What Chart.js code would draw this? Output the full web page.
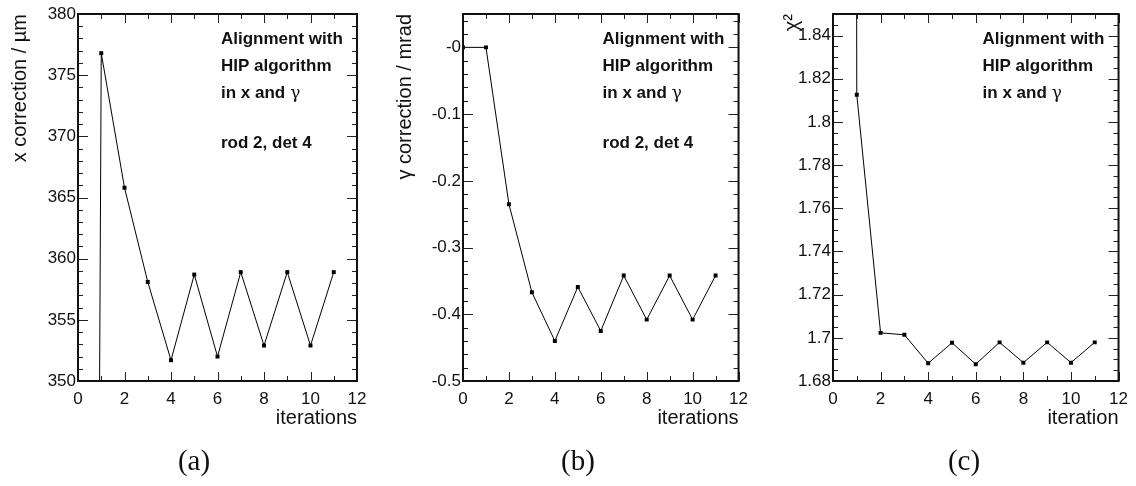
<!DOCTYPE html>
<html lang="en">
<head>
<meta charset="UTF-8" />
<title>HIP alignment convergence</title>
<script src="https://cdn.jsdelivr.net/npm/chart.js"></script>
<style>
  body { margin: 0; width: 1136px; height: 486px; background: #fff; position: relative; overflow: hidden; }
  .panel { position: absolute; top: 0; }
  .caption { position: absolute; top: 444px; font-family: "Liberation Serif", "DejaVu Serif", serif; font-size: 29px; color: #111; transform: translateX(-50%); }
</style>
</head>
<body>
  <canvas id="chartA" class="panel" style="left:0px" width="378" height="486"></canvas>
  <canvas id="chartB" class="panel" style="left:380px" width="376" height="486"></canvas>
  <canvas id="chartC" class="panel" style="left:760px" width="376" height="486"></canvas>
  <div class="caption" style="left:194px">(a)</div>
  <div class="caption" style="left:578px">(b)</div>
  <div class="caption" style="left:964px">(c)</div>

<script>
  // values
  const iterations = [0, 1, 2, 3, 4, 5, 6, 7, 8, 9, 10, 11];
  const xCorrection = [0, 376.8, 365.8, 358.1, 351.7, 358.7, 352.0, 358.9, 352.9, 358.9, 352.9, 358.9];
  const gammaCorrection = [0, 0, -0.235, -0.367, -0.440, -0.359, -0.425, -0.342, -0.408, -0.342, -0.408, -0.342];
  const chi2 = [8, 1.8126, 1.7023, 1.7014, 1.6882, 1.6977, 1.6878, 1.6979, 1.6885, 1.6979, 1.6885, 1.6979];

  const noteLines = ['Alignment with', 'HIP algorithm', 'in x and'];
  const detLabel = 'rod 2, det 4';

  const sans = '"Liberation Sans", Arial, sans-serif';

  // ROOT-like frame: ticks pointing inwards on all four sides
  const rootFrame = {
    id: 'rootFrame',
    afterDatasetsDraw(chart, args, opts) {
      const { ctx, chartArea: a, scales: { x, y } } = chart;
      ctx.save();
      ctx.strokeStyle = '#222';
      ctx.lineWidth = 1;
      const seg = (x1, y1, x2, y2) => { ctx.beginPath(); ctx.moveTo(x1, y1); ctx.lineTo(x2, y2); ctx.stroke(); };
      const steps = (min, max, step) => {
        const out = [];
        for (let n = Math.ceil(min / step - 1e-6); n * step <= max + 1e-9; n++) out.push(n * step);
        return out;
      };
      const isMajor = (scale, v) => scale.ticks.some(t => Math.abs(t.value - v) < 1e-7);
      steps(x.min, x.max, opts.xMinor).forEach(v => {
        const len = isMajor(x, v) ? 9 : 5;
        const px = Math.round(x.getPixelForValue(v)) + 0.5;
        seg(px, a.bottom, px, a.bottom - len);
        seg(px, a.top, px, a.top + len);
      });
      steps(y.min, y.max, opts.yMinor).forEach(v => {
        const len = isMajor(y, v) ? 10 : 5;
        const py = Math.round(y.getPixelForValue(v)) + 0.5;
        seg(a.left, py, a.left + len, py);
        seg(a.right, py, a.right - len, py);
      });
      ctx.lineWidth = 2;
      ctx.strokeStyle = '#111';
      ctx.strokeRect(a.left, a.top, a.right - a.left, a.bottom - a.top);

      // annotation
      ctx.fillStyle = '#111';
      ctx.textBaseline = 'middle';
      ctx.font = 'bold 17px ' + sans;
      const tx = a.right - 136;
      noteLines.forEach((t, i) => ctx.fillText(t, tx, a.top + 25 + i * 27));
      const w = ctx.measureText(noteLines[2]).width;
      ctx.font = '17px "DejaVu Serif", serif';
      ctx.fillText('γ', tx + w + 5, a.top + 25 + 2 * 27 + 1);
      if (opts.showDet) {
        ctx.font = 'bold 17px ' + sans;
        ctx.fillText(detLabel, tx, a.top + 129);
      }
      ctx.restore();
    }
  };

  function makePanel(id, values, cfg) {
    const points = iterations.map((it, i) => ({ x: it, y: values[i] }));
    return new Chart(document.getElementById(id), {
      type: 'line',
      data: {
        datasets: [{
          data: points,
          borderColor: '#000',
          borderWidth: 1,
          pointStyle: 'rect',
          pointRadius: 2.8,
          pointBackgroundColor: '#000',
          pointBorderWidth: 0,
          tension: 0
        }]
      },
      options: {
        responsive: false,
        animation: false,
        devicePixelRatio: 1,
        layout: { padding: { left: 0, top: 14, right: cfg.padRight, bottom: 56 } },
        plugins: {
          legend: { display: false },
          tooltip: { enabled: false },
          rootFrame: { xMinor: 1, yMinor: cfg.yMinor, showDet: cfg.showDet }
        },
        scales: {
          x: {
            type: 'linear',
            min: 0, max: 12,
            grid: { display: false, drawTicks: false },
            border: { display: false },
            ticks: { stepSize: 2, padding: 8, color: '#111', font: { family: sans, size: 17 }, maxRotation: 0 },
            title: { display: true, text: cfg.xTitle, align: 'end', color: '#111', font: { family: sans, size: 20 }, padding: 0 },
            afterFit(s) { s.height = 49; }
          },
          y: {
            min: cfg.yMin, max: cfg.yMax,
            grid: { display: false, drawTicks: false },
            border: { display: false },
            ticks: { stepSize: cfg.yStep, includeBounds: false, padding: 2, color: '#111', font: { family: sans, size: 17 }, callback: cfg.fmt },
            title: { display: true, text: cfg.yTitle, align: 'end', color: '#111', font: { family: sans, size: 20 }, padding: { top: cfg.titlePad } },
            afterFit(s) { s.width = cfg.yWidth; }
          }
        }
      },
      plugins: [rootFrame]
    });
  }

  const trim = v => String(+v.toFixed(3));

  makePanel('chartA', xCorrection, {
    yMin: 350, yMax: 380, yStep: 5, yMinor: 1, yWidth: 78, padRight: 21, titlePad: 8,
    yTitle: 'x correction / µm', xTitle: 'iterations', showDet: true, fmt: trim
  });
  makePanel('chartB', gammaCorrection, {
    yMin: -0.5, yMax: 0.05, yStep: 0.1, yMinor: 0.02, yWidth: 83, padRight: 14, titlePad: 13,
    yTitle: 'γ correction / mrad', xTitle: 'iterations', showDet: true,
    fmt: v => Math.abs(v) < 1e-9 ? '-0' : trim(v)
  });
  makePanel('chartC', chi2, {
    yMin: 1.68, yMax: 1.85, yStep: 0.02, yMinor: 0.005, yWidth: 73, padRight: 9, titlePad: 20,
    yTitle: 'χ²', xTitle: 'iteration', showDet: false, fmt: trim
  });
</script>
</body>
</html>
